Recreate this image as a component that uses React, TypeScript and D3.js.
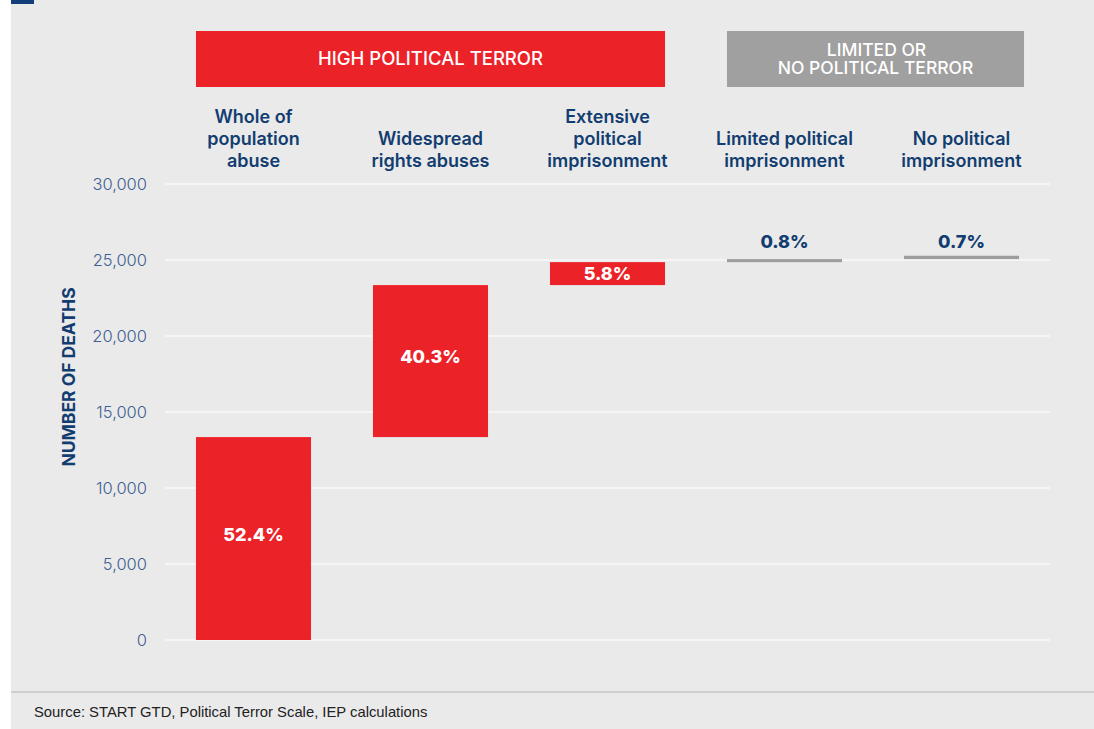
import React from "react";
import * as d3 from "d3";

const categories = [
  ["Whole of", "population", "abuse"],
  ["Widespread", "rights abuses"],
  ["Extensive", "political", "imprisonment"],
  ["Limited political", "imprisonment"],
  ["No political", "imprisonment"],
];
const deaths = [13350, 10000, 1510, 200, 220];
const shares = ["52.4%", "40.3%", "5.8%", "0.8%", "0.7%"];
const groupIsHigh = [true, true, true, false, false];
const groupLabels = [["HIGH POLITICAL TERROR"], ["LIMITED OR", "NO POLITICAL TERROR"]];
const yTicks = [0, 5000, 10000, 15000, 20000, 25000, 30000];
const source = "Source: START GTD, Political Terror Scale, IEP calculations";

const W = 1094;
const H = 729;
const RED = "#ec2229";
const GREY = "#9d9d9d";
const NAVY = "#123d70";
const FONT = "Inter, 'Open Sans', sans-serif";

export default function App() {
  const x = d3
    .scaleBand<number>()
    .domain(d3.range(categories.length))
    .range([165, 1050])
    .paddingInner(0.35)
    .paddingOuter(0.175);
  const y = d3.scaleLinear().domain([0, 30000]).range([640, 184]);
  const fmt = d3.format(",");

  const cum: number[] = [];
  deaths.reduce((acc, v, i) => {
    cum[i] = acc;
    return acc + v;
  }, 0);

  const bw = x.bandwidth();
  const greyTopMin = Math.min(
    ...deaths.map((v, i) => (groupIsHigh[i] ? Infinity : y(cum[i] + v)))
  );

  const highIdx = d3.range(categories.length).filter((i) => groupIsHigh[i]);
  const lowIdx = d3.range(categories.length).filter((i) => !groupIsHigh[i]);
  const groups = [
    { idx: highIdx, color: RED, lines: groupLabels[0], extra: 0, fs: 18.5 },
    { idx: lowIdx, color: "#a0a0a0", lines: groupLabels[1], extra: 5, fs: 17.5 },
  ];

  return (
    <svg
      width={W}
      height={H}
      style={{ position: "absolute", left: 0, top: 0, background: "#fff" }}
    >
      <rect x={11} y={0} width={W - 11} height={H} fill="#eaeaea" />
      <rect x={11} y={0} width={23} height={4} fill="#123f7a" />

      {/* gridlines */}
      {yTicks.map((t) => (
        <g key={t}>
          <line x1={165} x2={1050} y1={y(t)} y2={y(t)} stroke="#ffffff" strokeWidth={1.2} />
          <text
            x={147}
            y={y(t)}
            dy="0.35em"
            textAnchor="end"
            fontFamily={FONT}
            fontWeight={300}
            fontSize={16.5}
            fill="#3f6192"
          >
            {fmt(t)}
          </text>
        </g>
      ))}

      <text
        transform={`translate(75,${y(15000) - 35}) rotate(-90)`}
        textAnchor="middle"
        fontFamily={FONT}
        fontWeight={700}
        fontSize={17.5}
        fill={NAVY}
      >
        NUMBER OF DEATHS
      </text>

      {/* group header boxes */}
      {groups.map((g, gi) => {
        const x0 = x(g.idx[0])!;
        const x1 = x(g.idx[g.idx.length - 1])! + bw + g.extra;
        const cx = (x0 + x1) / 2;
        return (
          <g key={gi}>
            <rect x={x0} y={31} width={x1 - x0} height={56} fill={g.color} />
            <text
              textAnchor="middle"
              fontFamily={FONT}
              fontWeight={500}
              fontSize={g.fs}
              fill="#ffffff"
            >
              {g.lines.map((l, li) => (
                <tspan
                  key={li}
                  x={cx + (li === 0 && g.lines.length > 1 ? 1 : 0)}
                  y={59 + (li - (g.lines.length - 1) / 2) * 18.5}
                  dy="0.35em"
                >
                  {l}
                </tspan>
              ))}
            </text>
          </g>
        );
      })}

      {/* category labels */}
      {categories.map((lines, i) => (
        <text
          key={i}
          x={x(i)! + bw / 2}
          textAnchor="middle"
          fontFamily={FONT}
          fontWeight={600}
          fontSize={18}
          fill={NAVY}
        >
          {lines.map((l, li) => (
            <tspan key={li} x={x(i)! + bw / 2} y={167 - (lines.length - 1 - li) * 22}>
              {l}
            </tspan>
          ))}
        </text>
      ))}

      {/* bars */}
      {deaths.map((v, i) => {
        const top = y(cum[i] + v);
        const bot = y(cum[i]);
        const cx = x(i)! + bw / 2;
        const high = groupIsHigh[i];
        const lift = bot - top > 60 ? 4 : 0;
        return (
          <g key={i}>
            <rect x={x(i)!} y={top} width={bw} height={bot - top} fill={high ? RED : GREY} />
            {high ? (
              <text
                x={cx}
                y={(top + bot) / 2 - lift}
                dy="0.35em"
                textAnchor="middle"
                fontFamily={FONT}
                fontWeight={800}
                fontSize={18}
                fill="#ffffff"
              >
                {shares[i]}
              </text>
            ) : (
              <text
                x={cx}
                y={greyTopMin - 8}
                textAnchor="middle"
                fontFamily={FONT}
                fontWeight={800}
                fontSize={18}
                fill={NAVY}
              >
                {shares[i]}
              </text>
            )}
          </g>
        );
      })}

      <line x1={11} x2={W} y1={692} y2={692} stroke="#c4c4c4" strokeWidth={1.5} />
      <text
        x={34}
        y={717}
        fontFamily="'Liberation Sans', Arial, sans-serif"
        fontSize={14.8}
        fill="#222"
      >
        {source}
      </text>
    </svg>
  );
}
